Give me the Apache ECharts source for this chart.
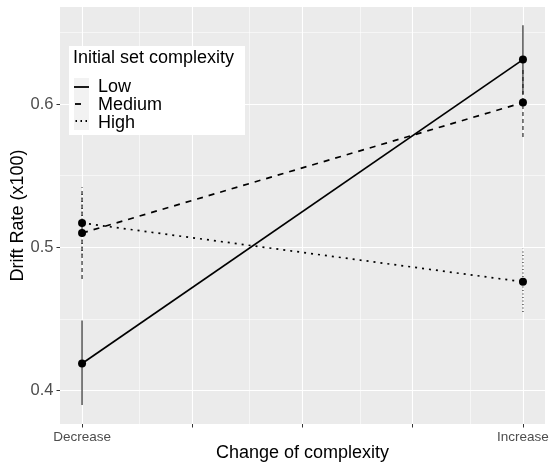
<!DOCTYPE html>
<html>
<head>
<meta charset="utf-8">
<script src="https://cdn.jsdelivr.net/npm/echarts@6/dist/echarts.min.js"></script>
<style>html,body{margin:0;padding:0;background:#fff}#c{width:550px;height:467px}</style>
</head>
<body>
<div id="c"></div>
<script>
// ---- data ----
const categories = ['Decrease', 'Increase'];
const xPos = [1, 2];
const groups = ['Low', 'Medium', 'High'];
const lowMean = [0.419, 0.631];
const lowLo = [0.390, 0.607];
const lowHi = [0.449, 0.655];
const medMean = [0.510, 0.601];
const medLo = [0.478, 0.577];
const medHi = [0.542, 0.625];
const highMean = [0.517, 0.476];
const highLo = [0.495, 0.455];
const highHi = [0.539, 0.499];
const yTicks = [0.4, 0.5, 0.6];
const yMinor = [0.45, 0.55, 0.65];
const xBreaks = [1, 1.25, 1.5, 1.75, 2];
const xMinor = [1.125, 1.375, 1.625, 1.875];
const legendTitle = 'Initial set complexity';
const xTitle = 'Change of complexity';
const yTitle = 'Drift Rate (x100)';

const means = [lowMean, medMean, highMean];
const los = [lowLo, medLo, highLo];
const his = [lowHi, medHi, highHi];
const mainDash = ['solid', [6, 6], [2, 5]];
const barDash = ['solid', [4, 3], [1, 2.5]];
const FONT = '"Liberation Sans", Arial, sans-serif';

const series = [];
// gridlines via markLine on a dummy series
const gridLines = [];
xBreaks.forEach(v => gridLines.push({xAxis: v, lineStyle: {width: 1.1}}));
xMinor.forEach(v => gridLines.push({xAxis: v, lineStyle: {width: 0.55}}));
yTicks.forEach(v => gridLines.push({yAxis: v, lineStyle: {width: 1.1}}));
yMinor.forEach(v => gridLines.push({yAxis: v, lineStyle: {width: 0.55}}));
series.push({
  type: 'line', name: '_grid', data: [], z: 1, silent: true,
  markLine: {
    silent: true, symbol: 'none', z: 1, animation: false,
    label: {show: false},
    lineStyle: {color: '#ffffff', type: 'solid'},
    emphasis: {disabled: true},
    data: gridLines
  }
});
// error bars
groups.forEach((g, gi) => {
  xPos.forEach((x, xi) => {
    series.push({
      type: 'line', name: g + '_err' + xi, z: 3, silent: true,
      data: [[x, los[gi][xi]], [x, his[gi][xi]]],
      symbol: 'none', clip: false,
      lineStyle: {color: '#1a1a1a', width: 1.1, type: barDash[gi]}
    });
  });
});
// main lines with points
groups.forEach((g, gi) => {
  series.push({
    type: 'line', name: g + '_line', z: 4, clip: false,
    data: xPos.map((x, i) => [x, means[gi][i]]),
    symbol: 'circle', symbolSize: 8,
    itemStyle: {color: '#000'},
    lineStyle: {color: '#000', width: 1.7, type: mainDash[gi]}
  });
});
// legend-only series
groups.forEach((g, gi) => {
  series.push({
    type: 'line', name: g, data: [], symbol: 'none',
    itemStyle: {color: '#000'},
    lineStyle: {color: '#000', width: 1.8, type: mainDash[gi]}
  });
});

// legend key graphics (positions of legend keys)
const keyY = [87, 104, 121];
const keyDash = [null, [6, 20], [1.5, 3.5]];
const keyX1 = [74, 75, 75.5];
const keyGraphics = groups.map((g, gi) => ({
  type: 'line', z: 11, silent: true,
  shape: {x1: keyX1[gi], y1: keyY[gi], x2: 89, y2: keyY[gi]},
  style: {stroke: '#000', lineWidth: 1.8, lineDash: keyDash[gi]}
}));

const chart = echarts.init(document.getElementById('c'), null, {renderer: 'canvas'});
chart.setOption({
  animation: false,
  textStyle: {fontFamily: FONT},
  grid: {left: 60, right: 5, top: 7, bottom: 43, containLabel: false, outerBoundsMode: 'none',
         backgroundColor: '#EBEBEB', show: true, borderWidth: 0},
  xAxis: {
    type: 'value', min: 0.95, max: 2.05,
    name: xTitle, nameLocation: 'middle', nameGap: 20, nameMoveOverlap: false,
    nameTextStyle: {fontSize: 18, color: '#000', fontFamily: FONT},
    axisLine: {show: false},
    splitLine: {show: false},
    axisTick: {show: true, customValues: xBreaks, length: 3.5, lineStyle: {color: '#333', width: 1}},
    axisLabel: {
      customValues: xPos, fontSize: 13.5, color: '#4D4D4D', margin: 6, fontFamily: FONT,
      formatter: v => categories[Math.round(v) - 1]
    }
  },
  yAxis: {
    type: 'value', min: 0.3768, max: 0.6677,
    name: yTitle, nameLocation: 'middle', nameGap: 32.5, nameRotate: 90, nameMoveOverlap: false,
    nameTextStyle: {fontSize: 18, color: '#000', fontFamily: FONT},
    axisLine: {show: false},
    splitLine: {show: false},
    axisTick: {show: true, customValues: yTicks, length: 3.5, lineStyle: {color: '#333', width: 1}},
    axisLabel: {
      customValues: yTicks, fontSize: 16.5, color: '#4D4D4D', margin: 6.5, fontFamily: FONT,
      formatter: v => v.toFixed(1)
    }
  },
  graphic: [
    {type: 'rect', z: 8, silent: true, shape: {x: 69, y: 46, width: 176, height: 89}, style: {fill: '#ffffff'}},
    {type: 'rect', z: 9, silent: true, shape: {x: 74, y: 78, width: 15, height: 52}, style: {fill: '#F2F2F2'}}
  ].concat(keyGraphics),
  title: {
    text: legendTitle, left: 73, top: 49, z: 12, padding: 0,
    textStyle: {fontSize: 18, fontWeight: 'normal', color: '#000', fontFamily: FONT}
  },
  legend: {
    data: groups.map(g => ({name: g, icon: 'rect', itemStyle: {color: 'rgba(0,0,0,0)', borderWidth: 0, opacity: 0}})),
    orient: 'vertical', left: 74, top: 78, z: 12, padding: 0,
    itemWidth: 15, itemHeight: 17, itemGap: 0,
    selectedMode: false,
    textStyle: {fontSize: 18, color: '#000', lineHeight: 17, padding: [0, 0, 0, 4], fontFamily: FONT}
  },
  series: series
});
</script>
</body>
</html>
